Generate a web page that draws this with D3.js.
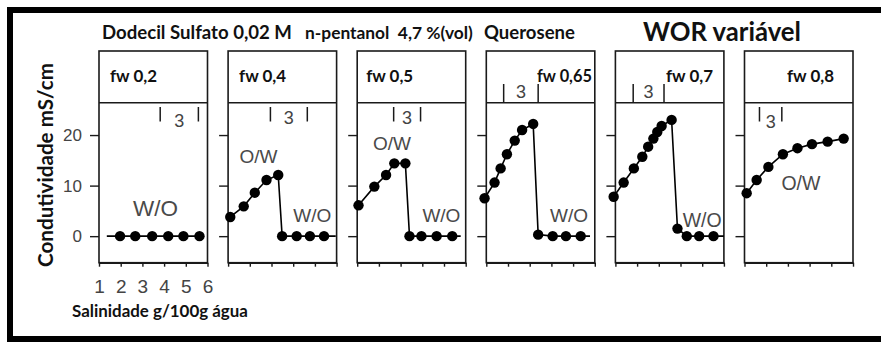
<!DOCTYPE html>
<html>
<head>
<meta charset="utf-8">
<script src="https://cdn.jsdelivr.net/npm/d3@7"></script>
<style>
  html, body { margin: 0; padding: 0; background: #fff; }
  svg { display: block; }
</style>
</head>
<body>
<svg id="chart" width="881" height="342"></svg>
<script>
// Water fraction of each run (panel headers)
const fwLabels = ["fw 0,2", "fw 0,4", "fw 0,5", "fw 0,65", "fw 0,7", "fw 0,8"];

// Salinity (g/100g water) and conductivity (mS/cm) for each water fraction
const sal_fw02 = [1.97, 2.67, 3.45, 4.19, 4.89, 5.63];
const cond_fw02 = [0, 0, 0, 0, 0, 0];
const sal_fw04 = [1.10, 1.72, 2.23, 2.77, 3.31, 3.49, 4.16, 4.77, 5.42];
const cond_fw04 = [3.8, 5.9, 8.6, 11.1, 12.1, 0, 0, 0, 0];
const sal_fw05 = [1.06, 1.79, 2.33, 2.71, 3.22, 3.41, 3.96, 4.66, 5.38];
const cond_fw05 = [6.1, 9.8, 12.1, 14.4, 14.4, 0, 0, 0, 0];
const sal_fw065 = [0.92, 1.38, 1.66, 1.95, 2.31, 2.65, 3.16, 3.39, 4.06, 4.67, 5.35];
const cond_fw065 = [7.5, 10.6, 13.4, 16.2, 18.9, 21.0, 22.2, 0.3, 0, 0, 0];
const sal_fw07 = [0.92, 1.38, 1.85, 2.24, 2.51, 2.75, 2.93, 3.13, 3.59, 3.86, 4.29, 4.86, 5.52];
const cond_fw07 = [7.8, 10.6, 13.4, 15.7, 17.7, 19.3, 20.6, 21.8, 23.0, 1.5, 0, 0, 0];
const sal_fw08 = [1.10, 1.56, 2.10, 2.77, 3.44, 4.11, 4.83, 5.57];
const cond_fw08 = [8.5, 11.1, 13.7, 16.2, 17.4, 18.2, 18.7, 19.3];

// Zero-conductivity (W/O) line continues past the measured points
const lineFrom = [1.36, null, null, null, null, null];
const lineTo = [null, 5.96, 5.77, 5.78, 6.0, null];

// Three-phase (Winsor III) salinity window, marked "3"
const threeLo = [3.82, 2.95, 2.68, 1.80, 1.82, 1.69];
const threeHi = [5.58, 4.65, 3.92, 3.39, 3.24, 2.72];

// Emulsion type annotations: [text, salinity, conductivity]
const phaseNotes = [
  [["W/O", 3.6, 3.9]],
  [["O/W", 2.4, 14.4], ["W/O", 4.88, 2.8]],
  [["O/W", 2.6, 17.0], ["W/O", 4.88, 2.8]],
  [["W/O", 4.81, 2.8]],
  [["W/O", 5.0, 1.9]],
  [["O/W", 3.6, 9.2]]
];

const xTicks = [1, 2, 3, 4, 5, 6];
const yTicks = [0, 10, 20];

const salinity = [sal_fw02, sal_fw04, sal_fw05, sal_fw065, sal_fw07, sal_fw08];
const conductivity = [cond_fw02, cond_fw04, cond_fw05, cond_fw065, cond_fw07, cond_fw08];

// ---- layout ----
const svg = d3.select("#chart");
const panelLeft0 = 99, panelStep = 129.1, panelW = 108.5;
const headTop = 51, headBottom = 102.7, plotBottom = 262.7;
const fwOffset = [11, 11, 9, 50.7, 50.6, 42.5];
const threeInHeader = [false, false, false, true, true, false];
const annotSize = [22.5, 19, 19, 19, 19.5, 19.5];
const ink = "#1a1a1a", grey = "#4a4a4a";

svg.append("rect").attr("width", 881).attr("height", 342).attr("fill", "#fff");

// heavy outer frame
svg.append("rect")
  .attr("x", 10).attr("y", 10).attr("width", 900).attr("height", 329)
  .attr("fill", "none").attr("stroke", "#000").attr("stroke-width", 6);

const y = d3.scaleLinear().domain([-5.25, 26.4]).range([plotBottom, headBottom]);

function fit(sel, width) {
  const fs = parseFloat(sel.attr("font-size"));
  const w = sel.node().getComputedTextLength();
  sel.attr("font-size", (fs * width / w).toFixed(2));
  return sel;
}

const titleFont = "Lato, 'Open Sans', sans-serif";
const numFont = "'Liberation Sans', Arial, sans-serif";

fit(svg.append("text").attr("x", 102).attr("y", 39).attr("font-family", titleFont)
  .attr("font-weight", "bold").attr("font-size", 18).attr("fill", "#111")
  .text("Dodecil Sulfato 0,02 M"), 190);
fit(svg.append("text").attr("x", 305).attr("y", 39).attr("font-family", titleFont)
  .attr("font-weight", "bold").attr("font-size", 18).attr("fill", "#111")
  .style("white-space", "pre").text("n-pentanol  4,7 %(vol)"), 168);
fit(svg.append("text").attr("x", 484).attr("y", 39).attr("font-family", titleFont)
  .attr("font-weight", "bold").attr("font-size", 18).attr("fill", "#111")
  .text("Querosene"), 91);
fit(svg.append("text").attr("x", 643).attr("y", 41).attr("font-family", titleFont)
  .attr("font-weight", "bold").attr("font-size", 22).attr("fill", "#111")
  .text("WOR variável"), 158);

fit(svg.append("text").attr("transform", "translate(53,165) rotate(-90)")
  .attr("text-anchor", "middle").attr("font-family", titleFont)
  .attr("font-weight", "bold").attr("font-size", 21).attr("fill", "#111")
  .text("Condutividade mS/cm"), 204);

fit(svg.append("text").attr("x", 72).attr("y", 317).attr("font-family", titleFont)
  .attr("font-weight", "bold").attr("font-size", 14).attr("fill", "#111")
  .text("Salinidade g/100g água"), 176);

fwLabels.forEach((label, i) => {
  const left = panelLeft0 + i * panelStep;
  const x = d3.scaleLinear().domain([1, 6]).range([left, left + panelW]);
  const g = svg.append("g");

  // panel frame and header separator
  g.append("rect").attr("x", left).attr("y", headTop)
    .attr("width", panelW).attr("height", plotBottom - headTop)
    .attr("fill", "none").attr("stroke", ink).attr("stroke-width", 1.6);
  g.append("line").attr("x1", left).attr("x2", left + panelW)
    .attr("y1", headBottom).attr("y2", headBottom)
    .attr("stroke", ink).attr("stroke-width", 1.6);

  fit(g.append("text").attr("x", left + fwOffset[i]).attr("y", 82)
    .attr("font-family", titleFont).attr("font-weight", "bold")
    .attr("font-size", 17).attr("fill", "#111").text(label), label.length > 6 ? 55 : 47);

  // axes
  const ax = g.append("g").attr("transform", `translate(0,${plotBottom})`)
    .call(d3.axisBottom(x).tickValues(xTicks).tickSize(4).tickSizeOuter(0)
      .tickFormat(i === 0 ? d3.format("d") : () => ""));
  ax.select(".domain").attr("stroke", ink).attr("stroke-width", 1.6);
  ax.selectAll(".tick line").attr("stroke", ink).attr("stroke-width", 1.4);
  ax.selectAll(".tick text").attr("font-family", numFont).attr("font-size", 19)
    .attr("fill", "#444").attr("dy", null).attr("y", 30.3);

  const ay = g.append("g").attr("transform", `translate(${left},0)`)
    .call(d3.axisLeft(y).tickValues(yTicks).tickSize(9).tickSizeOuter(0)
      .tickFormat(i === 0 ? d3.format("d") : () => ""));
  ay.select(".domain").remove();
  ay.selectAll(".tick line").attr("stroke", ink).attr("stroke-width", 1.4);
  ay.selectAll(".tick text").attr("font-family", numFont).attr("font-size", 17)
    .attr("fill", "#444").attr("x", -17);

  // three-phase window marks
  const inHead = threeInHeader[i];
  const t0 = inHead ? 84 : 107, t1 = inHead ? headBottom : 121.5;
  [threeLo[i], threeHi[i]].forEach(v => {
    g.append("line").attr("x1", x(v)).attr("x2", x(v)).attr("y1", t0).attr("y2", t1)
      .attr("stroke", ink).attr("stroke-width", 1.5);
  });
  g.append("text").attr("x", (x(threeLo[i]) + x(threeHi[i])) / 2)
    .attr("y", inHead ? 98 : (i === 5 ? 127.5 : (i === 0 ? 126.5 : 124)))
    .attr("text-anchor", "middle").attr("font-family", numFont)
    .attr("font-size", 18).attr("fill", "#444").text("3");

  // measured curve
  const pts = salinity[i].map((s, k) => [s, conductivity[i][k]]);
  const path = pts.slice();
  if (lineFrom[i] !== null) path.unshift([lineFrom[i], 0]);
  if (lineTo[i] !== null) path.push([lineTo[i], 0]);
  g.append("path").datum(path)
    .attr("d", d3.line().x(d => x(d[0])).y(d => y(d[1])))
    .attr("fill", "none").attr("stroke", "#000").attr("stroke-width", 1.6);
  g.selectAll("circle.pt").data(pts).join("circle").attr("class", "pt")
    .attr("cx", d => x(d[0])).attr("cy", d => y(d[1])).attr("r", 5.2)
    .attr("fill", "#000");

  // emulsion labels
  phaseNotes[i].forEach(([txt, s, c]) => {
    g.append("text").attr("x", x(s)).attr("y", y(c))
      .attr("text-anchor", "middle").attr("font-family", numFont)
      .attr("font-size", annotSize[i]).attr("fill", grey).text(txt);
  });
});
</script>
</body>
</html>
